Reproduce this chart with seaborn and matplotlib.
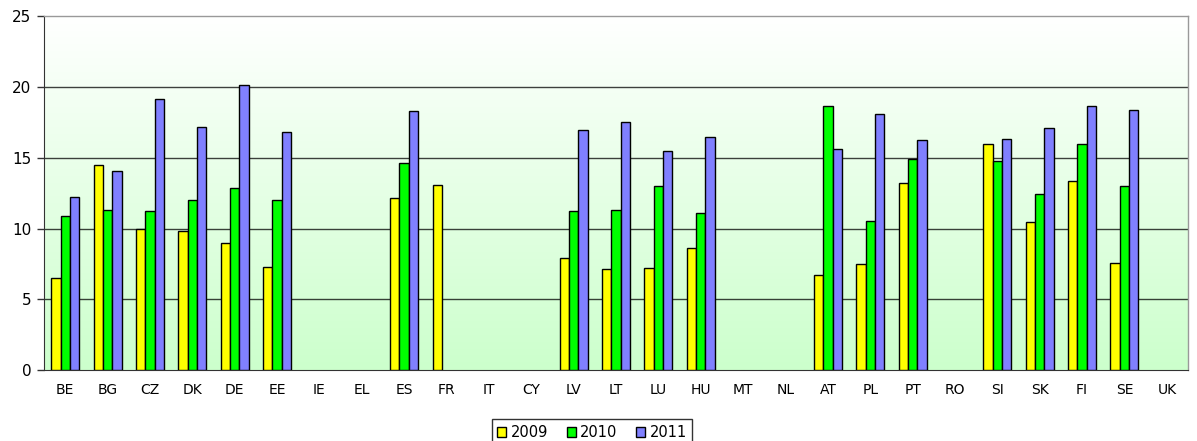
import numpy as np
import pandas as pd
import matplotlib
matplotlib.use("Agg")
import matplotlib.pyplot as plt
import seaborn as sns
from matplotlib.colors import LinearSegmentedColormap
from matplotlib.patches import Patch

categories = ["BE", "BG", "CZ", "DK", "DE", "EE", "IE", "EL", "ES", "FR", "IT", "CY", "LV", "LT",
              "LU", "HU", "MT", "NL", "AT", "PL", "PT", "RO", "SI", "SK", "FI", "SE", "UK"]
nan = np.nan
v2009 = [6.5, 14.5, 10.0, 9.8, 9.0, 7.3, nan, nan, 12.15, 13.1, nan, nan, 7.9, 7.15,
         7.2, 8.6, nan, nan, 6.7, 7.5, 13.2, nan, 16.0, 10.45, 13.4, 7.6, nan]
v2010 = [10.9, 11.35, 11.25, 12.05, 12.85, 12.0, nan, nan, 14.65, nan, nan, nan, 11.25, 11.3,
         13.0, 11.1, nan, nan, 18.65, 10.55, 14.95, nan, 14.75, 12.45, 15.95, 13.0, nan]
v2011 = [12.2, 14.1, 19.2, 17.2, 20.15, 16.85, nan, nan, 18.35, nan, nan, nan, 17.0, 17.55,
         15.5, 16.45, nan, nan, 15.6, 18.1, 16.3, nan, 16.35, 17.1, 18.7, 18.4, nan]
series = ["2009", "2010", "2011"]
colors = ["#FFFF00", "#00FF00", "#8080FF"]

df = pd.DataFrame({
    "country": categories * 3,
    "year": sum([[s] * len(categories) for s in series], []),
    "value": v2009 + v2010 + v2011,
})

sns.set_style("white")
plt.rcParams["font.family"] = ["DejaVu Sans"]
plt.rcParams["text.color"] = "black"
plt.rcParams["xtick.color"] = "black"
plt.rcParams["ytick.color"] = "black"

fig = plt.figure(figsize=(11.97, 4.41), dpi=100)
ax = fig.add_axes([44 / 1197, 1 - 370 / 441, (1188 - 44) / 1197, (370 - 16.5) / 441])

sns.barplot(data=df, x="country", y="value", hue="year", palette=colors, order=categories,
            hue_order=series, width=0.66, edgecolor="black", linewidth=1.0, ax=ax,
            legend=False, zorder=3, saturation=1)

# gradient background: white at top, light green at bottom
cmap = LinearSegmentedColormap.from_list("bg", ["#FFFFFF", "#CCFFCC"])
grad = np.linspace(1, 0, 256).reshape(-1, 1)
ax.imshow(grad, aspect="auto", cmap=cmap, extent=[-0.5, len(categories) - 0.5, 0, 25],
          zorder=0, origin="lower")
ax.set_xlim(-0.5, len(categories) - 0.5)
ax.set_ylim(0, 25)

ax.set_yticks([0, 5, 10, 15, 20, 25])
for y in [5, 10, 15, 20]:
    ax.axhline(y, color="#000000", linewidth=1.0, zorder=1, alpha=0.75)
ax.set_xlabel("")
ax.set_ylabel("")

ax.set_xticks(range(len(categories)))
ax.set_xticklabels(categories)
ax.set_xticks(np.arange(-0.5, len(categories), 1), minor=True)
ax.tick_params(axis="x", which="major", length=0, pad=9, labelsize=10, labelcolor="black")
ax.tick_params(axis="x", which="minor", length=5, width=1, color="#333333", direction="out")
ax.tick_params(axis="y", which="major", length=5, width=1, direction="out", labelsize=11,
               color="#333333", left=True, pad=4, labelcolor="black")

for side in ["top", "right"]:
    ax.spines[side].set_color("#999999")
    ax.spines[side].set_linewidth(1.0)
ax.spines["left"].set_color("#333333")
ax.spines["bottom"].set_color("#333333")

handles = [Patch(facecolor=c, edgecolor="black", linewidth=1, label=s) for c, s in zip(colors, series)]
leg = fig.legend(handles=handles, loc="upper center", bbox_to_anchor=(592 / 1197, 1 - 412 / 441),
                 ncol=3, frameon=True, fontsize=10.5, handlelength=0.6, handleheight=0.6,
                 handletextpad=0.3, columnspacing=1.3, borderpad=0.4, fancybox=False,
                 labelcolor="black")
leg.get_frame().set_edgecolor("black")
leg.get_frame().set_linewidth(1.0)

fig.savefig("out.png", dpi=100)
